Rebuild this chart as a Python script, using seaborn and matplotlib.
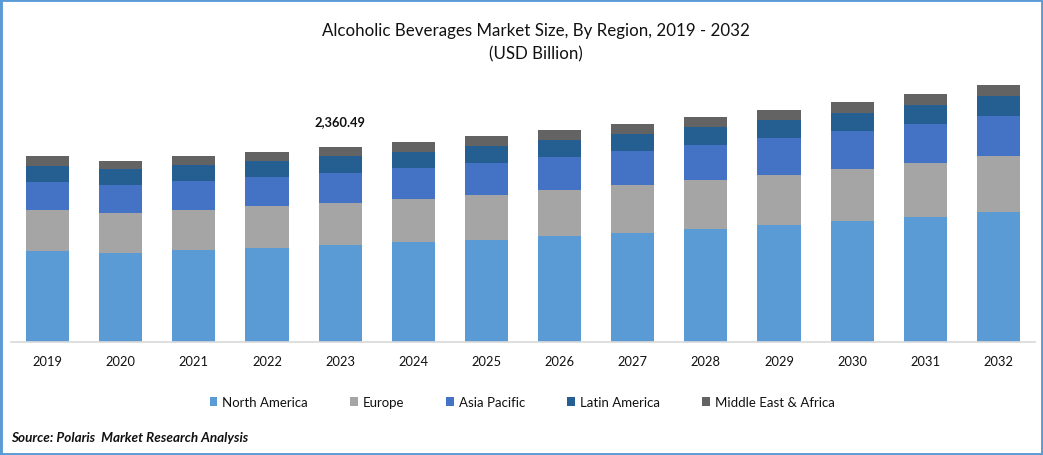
## ==========================================
## Alcoholic Beverages Market Size, By Region
## ==========================================

import matplotlib
matplotlib.use("Agg")
import matplotlib.pyplot as plt
from matplotlib.patches import Rectangle
import numpy as np
import pandas as pd
import seaborn as sns

## ==========================================
## Data (USD Billion)
## ==========================================

years = [2019, 2020, 2021, 2022, 2023, 2024, 2025, 2026, 2027, 2028, 2029, 2030, 2031, 2032]

north_america = [1101, 1077, 1113, 1137, 1174, 1210, 1234, 1283, 1319, 1367, 1416, 1464, 1513, 1573]
europe = [496, 484, 484, 508, 508, 520, 545, 557, 581, 593, 605, 629, 653, 678]
asia_pacific = [339, 339, 351, 351, 363, 375, 387, 399, 411, 424, 448, 460, 472, 484]
latin_america = [194, 194, 194, 194, 206, 194, 206, 206, 206, 218, 218, 218, 230, 242]
middle_east_africa = [121, 97, 109, 109, 109.49, 121, 121, 121, 121, 121, 121, 133, 133, 133]

regions = ["North America", "Europe", "Asia Pacific", "Latin America", "Middle East & Africa"]
series = [north_america, europe, asia_pacific, latin_america, middle_east_africa]
colors = ["#5B9BD5", "#A5A5A5", "#4472C4", "#255E91", "#636363"]

label_year = 2023
label_text = "2,360.49"

## ==========================================
## Figure
## ==========================================

sns.set_theme(style="white")
plt.rcParams["font.family"] = ["Lato", "DejaVu Sans"]

fig = plt.figure(figsize=(10.43, 4.56), dpi=100, facecolor="white")
ax = fig.add_axes([11 / 1043, 113 / 456, 1024 / 1043, 272 / 456])

## ==========================================
## Stacked Bars
## ==========================================

bottom = np.zeros(len(years))

for region, values, color in zip(regions, series, colors):

    df = pd.DataFrame({"year": years, "value": values})

    sns.barplot(
        data=df,
        x="year",
        y="value",
        color=color,
        saturation=1,
        width=0.59,
        bottom=bottom,
        label=region,
        linewidth=0,
        ax=ax
    )

    bottom = bottom + np.array(values)

ax.set_xlim(-0.5, 13.5)
ax.set_ylim(0, 3291)
ax.set_xlabel("")
ax.set_ylabel("")
ax.set_yticks([])
ax.tick_params(axis="x", length=0, pad=9.3, labelsize=9.3, labelcolor="#111111")

sns.despine(ax=ax, left=True)
ax.spines["bottom"].set_color("#D9D9D9")
ax.spines["bottom"].set_linewidth(1.2)

## ==========================================
## Data Label
## ==========================================

label_pos = years.index(label_year)

ax.annotate(
    label_text,
    xy=(label_pos, bottom[label_pos]),
    xytext=(0, 20),
    textcoords="offset pixels",
    ha="center",
    va="bottom",
    fontsize=9.3,
    fontweight="bold",
    color="#111111"
)

## ==========================================
## Title, Legend, Source
## ==========================================

fig.text(536 / 1043, 1 - 31 / 456, "Alcoholic Beverages Market Size, By Region, 2019 - 2032",
         ha="center", va="center", fontsize=12.15, color="#111111")
fig.text(536 / 1043, 1 - 54 / 456, "(USD Billion)",
         ha="center", va="center", fontsize=12.15, color="#111111")

ax.get_legend().remove() if ax.get_legend() else None
handles, labels = ax.get_legend_handles_labels()

fig.legend(
    handles,
    labels,
    loc="center",
    bbox_to_anchor=(522 / 1043, 1 - 403 / 456),
    ncol=5,
    frameon=False,
    fontsize=9.5,
    handlelength=0.6,
    handleheight=0.6,
    handletextpad=0.35,
    columnspacing=3.2,
    labelcolor="#111111"
)

fig.text(11 / 1043, 1 - 438 / 456, "Source: Polaris  Market Research Analysis",
         ha="left", va="center", fontsize=9.7, fontweight="bold", fontstyle="italic", color="#111111")

## ==========================================
## Outer Border
## ==========================================

fig.add_artist(Rectangle((0, 0), 1, 1, transform=fig.transFigure, fill=False,
                         edgecolor="#5B9BD5", linewidth=3.5))

fig.savefig("out.png", dpi=100, facecolor="white")
plt.close()
